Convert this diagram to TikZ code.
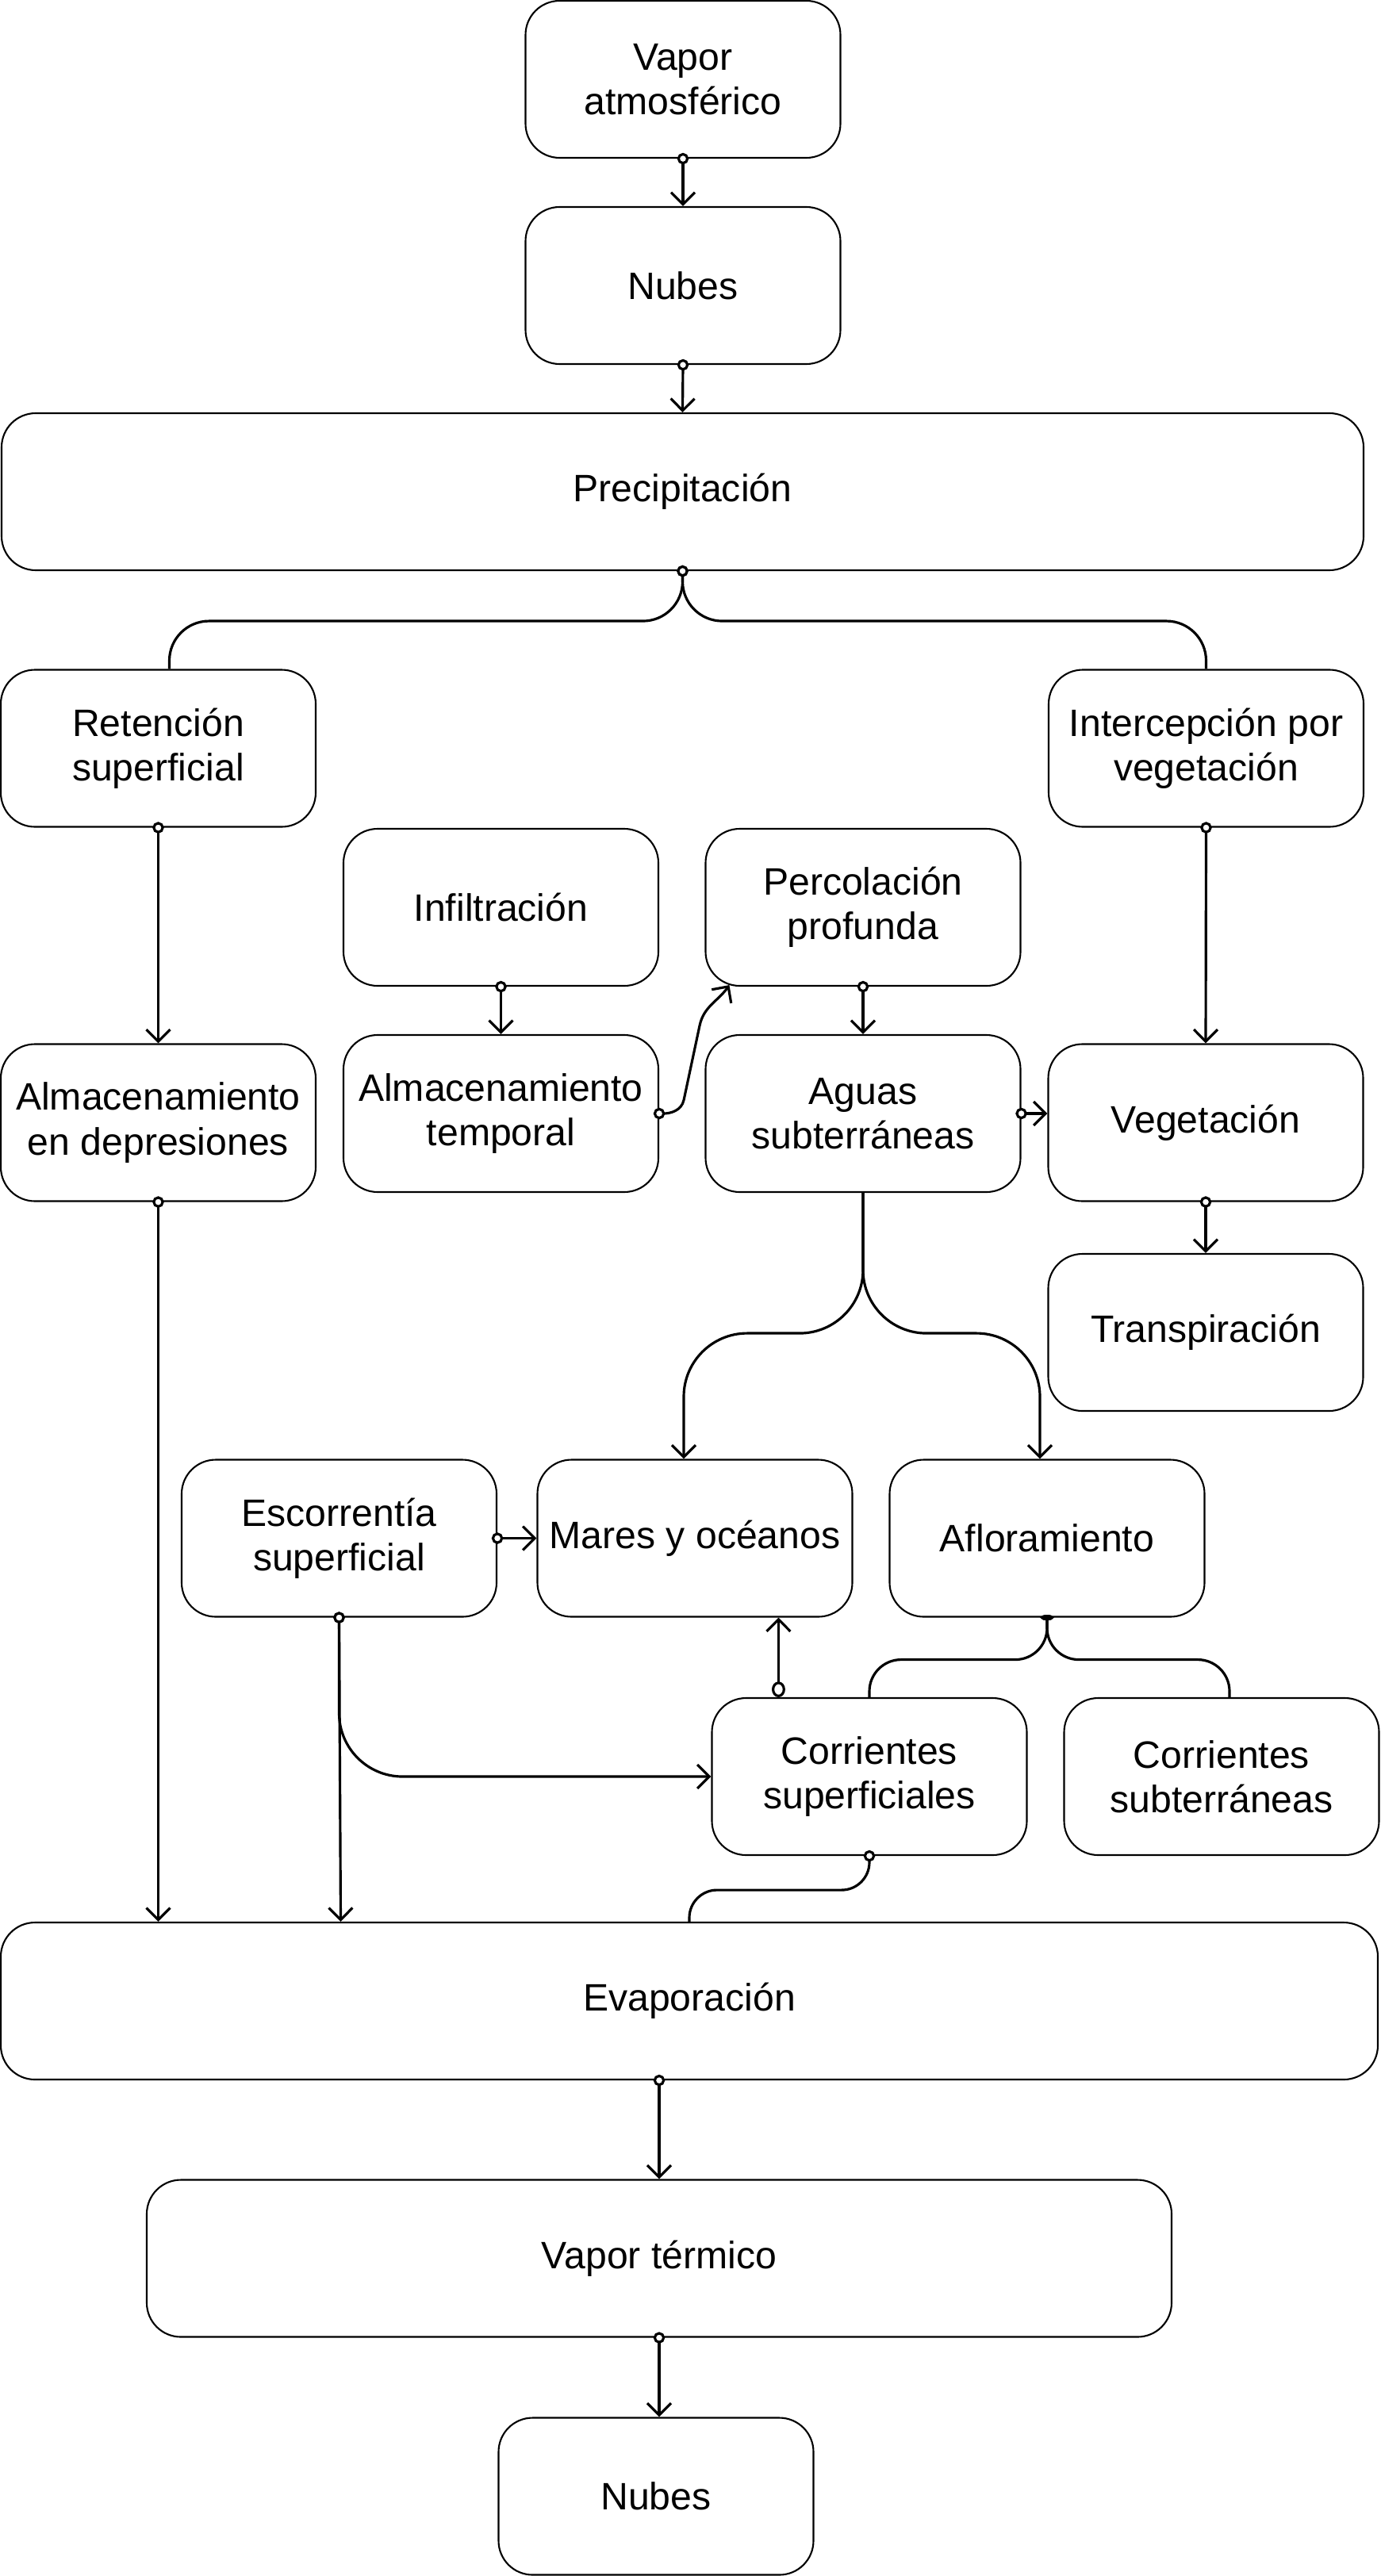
\documentclass[tikz,border=0pt]{standalone}
\usepackage{fontspec}
\setmainfont{Liberation Sans}
\usetikzlibrary{arrows.meta,positioning,calc}

\begin{document}
\begin{tikzpicture}[
		% Node styles
		stage/.style={draw, rounded corners=0.43cm, minimum width=3.97cm, minimum height=1.98cm,
				inner sep=2pt, line width=0.6pt, align=center, font=\fontsize{13.7}{16}\selectfont},
		wide/.style={stage, minimum width=#1},
		% Connector styles
		flow/.style={{Circle[fill=white, length=4.1pt]}-{Straight Barb[length=4.3pt, width=8.5pt]},
				line width=0.9pt, shorten <=-2.05pt},
		split/.style={{Circle[fill=white, length=4.1pt]}-, line width=0.9pt, shorten <=-2.05pt, rounded corners=#1},
		split/.default=0.5cm,
		outflow/.style={-{Straight Barb[length=4.3pt, width=8.5pt]}, line width=0.9pt, rounded corners=#1},
		outflow/.default=0.8cm,
		confluence/.style={{Ellipse[length=2pt, width=4.4pt]}-, line width=0.9pt, shorten <=-1pt, rounded corners=0.4cm}
	]

	\useasboundingbox (0,0) rectangle (17.41,-32.48);

	% Atmosphere
	\node[stage] (vapor) at (8.61,-1.00) {Vapor\\atmosférico};
	\node[stage] (nubes_top) at (8.61,-3.60) {Nubes};
	\node[wide=17.17cm] (precipitacion) at (8.605,-6.20) {Precipitación};

	% Surface and soil
	\node[stage] (retencion) at (1.995,-9.435) {Retención\\superficial};
	\node[stage] (intercepcion) at (15.205,-9.435) {Intercepción por\\vegetación};
	\node[stage] (infiltracion) at (6.315,-11.44) {Infiltración};
	\node[stage] (percolacion) at (10.88,-11.44) {Percolación\\profunda};
	\node[stage] (almac_dep) at (1.995,-14.155) {Almacenamiento\\en depresiones};
	\node[stage] (almac_temp) at (6.315,-14.04) {Almacenamiento\\temporal};
	\node[stage] (aguas) at (10.88,-14.04) {Aguas\\subterráneas};
	\node[stage] (vegetacion) at (15.20,-14.155) {Vegetación};
	\node[stage] (transpiracion) at (15.20,-16.80) {Transpiración};

	% Runoff
	\node[stage] (escorrentia) at (4.275,-19.395) {Escorrentía\\superficial};
	\node[stage] (mares) at (8.76,-19.395) {Mares y océanos};
	\node[stage] (afloramiento) at (13.20,-19.395) {Afloramiento};
	\node[stage] (corr_sup) at (10.96,-22.40) {Corrientes\\superficiales};
	\node[stage] (corr_sub) at (15.40,-22.40) {Corrientes\\subterráneas};

	% Return to the atmosphere
	\node[wide=17.36cm] (evaporacion) at (8.69,-25.23) {Evaporación};
	\node[wide=12.92cm] (vapor_termico) at (8.31,-28.475) {Vapor térmico};
	\node[stage] (nubes_bottom) at (8.27,-31.475) {Nubes};

	% Connections
	\draw[flow] (vapor.south) -- (nubes_top.north);
	\draw[flow] (nubes_top.south) -- (precipitacion.north);
	\draw[split] (precipitacion.south) -- ++(0,-0.63) -| ($(retencion.north)+(0.14,0)$);
	\draw[split] (precipitacion.south) -- ++(0,-0.63) -| (intercepcion.north);
	\draw[flow] (retencion.south) -- (almac_dep.north);
	\draw[flow] (intercepcion.south) -- (vegetacion.north);
	\draw[flow] (infiltracion.south) -- (almac_temp.north);
	\draw[flow] (percolacion.south) -- (aguas.north);
	\draw[flow] (almac_temp.east) to[out=0, in=-102] ++(0.31,0.17) -- ++(0.20,0.94)
		to[out=78, in=-125] ($(percolacion.south west)+(0.31,0.02)$);
	\draw[flow] (aguas.east) -- (aguas.east -| vegetacion.west);
	\draw[flow] (vegetacion.south) -- (transpiracion.north);

	% Groundwater outflow
	\draw[outflow] (aguas.south) -- ++(0,-1.77) -| ($(mares.north)+(-0.14,0)$);
	\draw[outflow] (aguas.south) -- ++(0,-1.77) -| ($(afloramiento.north)+(-0.09,0)$);

	% Runoff to streams and sea
	\draw[flow] (escorrentia.east) -- (mares.west);
	\draw[flow, rounded corners=0.8cm] (escorrentia.south) |- (corr_sup.west);
	\coordinate (sup_out) at ($(corr_sup.north west)+(0.85,0)$);
	\draw[{Ellipse[fill=white, length=5.6pt, width=4.8pt]}-{Straight Barb[length=4.3pt, width=8.5pt]}, line width=0.9pt]
		(sup_out) -- (sup_out |- mares.south);
	\draw[confluence] (afloramiento.south) -- ++(0,-0.53) -| (corr_sup.north);
	\draw[confluence] (afloramiento.south) -- ++(0,-0.53) -| ($(corr_sub.north)+(0.1,0)$);

	% Into evaporation
	\draw[flow] (almac_dep.south) -- (almac_dep.south |- evaporacion.north);
	\draw[flow] (escorrentia.south) -- ($(escorrentia.south |- evaporacion.north)+(0.02,0)$);
	\draw[split=0.35cm] (corr_sup.south) -- ++(0,-0.43) -| (evaporacion.north);
	\draw[flow] (evaporacion.south -| vapor_termico.north) -- (vapor_termico.north);
	\draw[flow] (vapor_termico.south) -- (vapor_termico.south |- nubes_bottom.north);

\end{tikzpicture}
\end{document}
